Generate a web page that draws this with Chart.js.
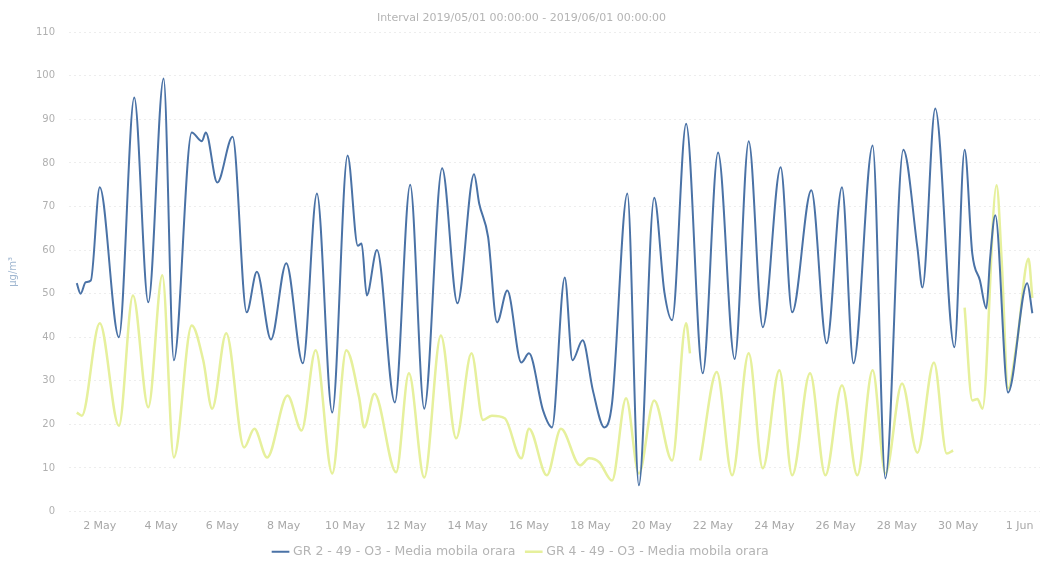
<!DOCTYPE html>
<html>
<head>
<meta charset="utf-8">
<script src="https://cdn.jsdelivr.net/npm/chart.js@4/dist/chart.umd.min.js"></script>
<style>
  html, body { margin: 0; padding: 0; background: #fff; }
  #wrap { width: 1043px; height: 562px; }
</style>
</head>
<body>
<div id="wrap"><canvas id="c" width="1043" height="562"></canvas></div>
<script>
// hours counted from 2019/05/01 00:00, values in ug/m3
const blueHours = [6, 9, 13, 17, 24, 39, 51, 62, 74, 82, 96, 104, 107, 116, 128, 139, 147, 158, 170, 183,
  194, 206, 218, 226, 229, 233, 241, 255, 267, 278, 292, 304, 317, 321, 328, 335, 343, 354, 360, 371,
  378, 388, 394, 402, 410, 419, 425, 437, 446, 458, 466, 472, 483, 496, 508, 521, 532, 543, 557, 566,
  581, 593, 605, 614, 629, 639, 653, 664, 668, 678, 693, 701, 707, 713, 718, 721, 725, 735, 750, 754];
const blueValues = [52.4, 50, 52.6, 53, 74.4, 40, 95, 48, 99.4, 34.7, 87, 85, 87, 75.5, 86, 45.7, 55, 39.5, 57, 34,
  73, 22.7, 81.7, 61, 61.5, 49.6, 60, 25, 75, 23.6, 78.8, 47.8, 77.4, 70.7, 63, 43.4, 50.7, 34.2, 36.3, 23.2,
  19.3, 53.7, 34.7, 39.3, 27.8, 19.3, 24.8, 73, 6, 72, 50.3, 43.9, 89, 31.7, 82.4, 35, 85, 42.3, 79, 45.7,
  73.7, 38.6, 74.4, 34, 84, 7.6, 83, 60.6, 51.4, 92.5, 37.7, 83, 59.2, 53, 46.6, 58.3, 68, 27.3, 52.4, 45.5];

const yellowHours = [6, 10, 24, 39, 50, 62, 73, 82, 96, 105, 112, 123, 137, 145, 155, 171, 182, 193, 206, 217,
  227, 231, 239, 256, 266, 278, 291, 303, 315, 324, 331, 341, 354, 360, 374, 385, 400, 407, 415, 425,
  436, 446, 458, 472, 483, 486, 490, 494, 507, 519, 532, 543, 556, 566, 580, 592, 605, 617, 629, 639,
  652, 664, 677, 687, 692, 696, 701, 707, 711, 715, 726, 730, 735, 742, 751, 754];
const yellowValues = [22.7, 22, 43.2, 19.7, 49.6, 23.9, 54.2, 12.4, 42.7, 34.7, 23.6, 40.9, 14.7, 19, 12.4, 26.6, 18.6, 37, 8.7, 37,
  26.2, 19.3, 27, 9, 31.7, 7.8, 40.4, 16.8, 36.3, 21, 22, 21.4, 12.2, 19, 8.3, 19, 10.6, 12.2, 11.3, 7.1,
  26, 8.7, 25.5, 11.7, 43.2, 36.3, null, 11.7, 32, 8.3, 36.3, 9.9, 32.4, 8.3, 31.7, 8.3, 29, 8.3, 32.4, 8.7,
  29.4, 13.5, 34.2, 13.3, 14, null, 46.8, 25.5, 25.8, 23.6, 74.9, 57.6, 28.2, 39, 58, 49];

const xTickHours = [24, 72, 120, 168, 216, 264, 312, 360, 408, 456, 504, 552, 600, 648, 696, 744];
const yTicks = [0, 10, 20, 30, 40, 50, 60, 70, 80, 90, 100, 110];

const chartTitle = 'Interval 2019/05/01 00:00:00 - 2019/06/01 00:00:00';
const seriesNames = ['GR 2 - 49 - O3 - Media mobila orara', 'GR 4 - 49 - O3 - Media mobila orara'];

function dayLabel(h) {
    const day = Math.round(h / 24) + 1;
    return day > 31 ? (day - 31) + ' Jun' : day + ' May';
}

const toPoints = (hours, values) => hours.map((h, i) => ({ x: h, y: values[i] }));

new Chart(document.getElementById('c'), {
    type: 'line',
    data: {
        datasets: [{
            label: seriesNames[0],
            data: toPoints(blueHours, blueValues),
            borderColor: '#4a72a6',
            backgroundColor: '#4a72a6',
            borderWidth: 2,
            pointRadius: 0,
            cubicInterpolationMode: 'monotone'
        }, {
            label: seriesNames[1],
            data: toPoints(yellowHours, yellowValues),
            borderColor: '#e6f09c',
            backgroundColor: '#e6f09c',
            borderWidth: 2.5,
            pointRadius: 0,
            cubicInterpolationMode: 'monotone'
        }]
    },
    options: {
        responsive: false,
        animation: false,
        spanGaps: false,
        layout: { padding: { left: 3, right: 3, top: 0, bottom: -6 } },
        plugins: {
            title: {
                display: true,
                text: chartTitle,
                color: '#b4b4b4',
                font: { family: 'DejaVu Sans', size: 11, weight: 'normal' },
                padding: { top: 12, bottom: 7 }
            },
            legend: {
                position: 'bottom',
                labels: {
                    color: '#b4b4b4',
                    font: { family: 'DejaVu Sans', size: 12.5 },
                    usePointStyle: true,
                    pointStyle: 'line',
                    boxWidth: 22,
                    padding: 12
                }
            },
            tooltip: { enabled: false }
        },
        scales: {
            x: {
                type: 'linear',
                min: 0,
                max: 760,
                afterBuildTicks: axis => { axis.ticks = xTickHours.map(v => ({ value: v })); },
                afterFit: axis => { axis.height = 22; },
                ticks: {
                    color: '#a8a8a8',
                    font: { family: 'DejaVu Sans', size: 11 },
                    maxRotation: 0,
                    autoSkip: false,
                    padding: 0,
                    callback: v => dayLabel(v)
                },
                grid: { display: false },
                border: { display: false }
            },
            y: {
                min: 0,
                max: 110,
                afterBuildTicks: axis => { axis.ticks = yTicks.map(v => ({ value: v })); },
                title: {
                    display: true,
                    text: 'µg/m³',
                    color: '#9fb6d0',
                    font: { family: 'DejaVu Sans', size: 10 },
                    padding: { bottom: 3 }
                },
                ticks: {
                    color: '#b0b0b0',
                    font: { family: 'DejaVu Sans', size: 10 },
                    padding: 14
                },
                grid: {
                    color: 'rgba(0,0,0,0.07)',
                    drawTicks: false
                },
                border: { display: false, dash: [2, 3] }
            }
        }
    }
});
</script>
</body>
</html>
